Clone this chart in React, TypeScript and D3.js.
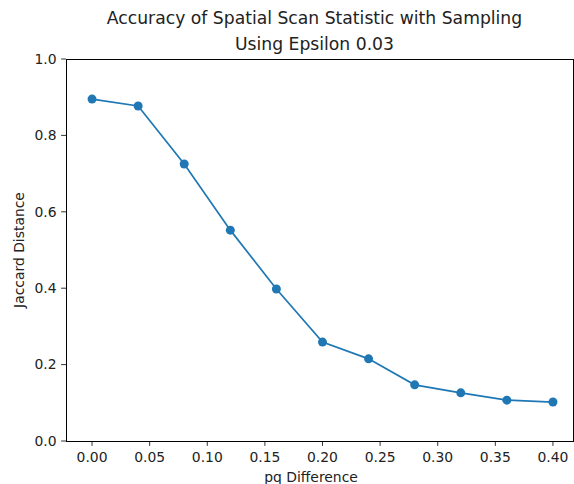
import React from "react";
import * as d3 from "d3";

const xValues = [0.0, 0.04, 0.08, 0.12, 0.16, 0.2, 0.24, 0.28, 0.32, 0.36, 0.4];
const yValues = [0.895, 0.877, 0.725, 0.552, 0.398, 0.259, 0.215, 0.147, 0.126, 0.107, 0.102];
const xTicks = [0.0, 0.05, 0.1, 0.15, 0.2, 0.25, 0.3, 0.35, 0.4];
const yTicks = [0.0, 0.2, 0.4, 0.6, 0.8, 1.0];
const titleLines = ["Accuracy of Spatial Scan Statistic with Sampling", "Using Epsilon 0.03"];
const xLabel = "pq Difference";
const yLabel = "Jaccard Distance";

export default function App() {
  const W = 574, H = 484;
  const left = 66, right = 573, top = 59, bottom = 441;
  const x = d3.scaleLinear().domain([-0.0226, 0.4174]).range([left, right]);
  const y = d3.scaleLinear().domain([0, 1]).range([bottom, top]);
  const line = d3.line<number>().x((_, i) => x(xValues[i])).y((d) => y(d));
  const color = "#1f77b4";
  const font = "DejaVu Sans, sans-serif";
  return (
    <svg width={W} height={H} style={{ position: "absolute", left: 0, top: 0, background: "#fff" }} fontFamily={font}>
      <rect x={0} y={0} width={W} height={H} fill="#fff" />
      <path d={line(yValues) || ""} fill="none" stroke={color} strokeWidth={1.7} />
      {yValues.map((d, i) => (
        <circle key={i} cx={x(xValues[i])} cy={y(d)} r={4.5} fill={color} />
      ))}
      <rect x={left} y={top} width={right - left} height={bottom - top} fill="none" stroke="#000" strokeWidth={1} shapeRendering="crispEdges" />
      {xTicks.map((t) => (
        <g key={t}>
          <line x1={x(t)} x2={x(t)} y1={bottom} y2={bottom + 4.9} stroke="#000" strokeWidth={0.8} />
          <text x={x(t)} y={bottom + 21} textAnchor="middle" fontSize={13.9} fill="#222">
            {t.toFixed(2)}
          </text>
        </g>
      ))}
      {yTicks.map((t) => (
        <g key={t}>
          <line x1={left - 4.9} x2={left} y1={y(t)} y2={y(t)} stroke="#000" strokeWidth={0.8} />
          <text x={left - 9.5} y={y(t)} dy="0.35em" textAnchor="end" fontSize={13.9} fill="#222">
            {t.toFixed(1)}
          </text>
        </g>
      ))}
      <text x={311} y={482} textAnchor="middle" fontSize={13.9} fill="#222">{xLabel}</text>
      <text transform={`translate(24, ${(top + bottom) / 2}) rotate(-90)`} textAnchor="middle" fontSize={13.9} fill="#222">{yLabel}</text>
      {titleLines.map((t, i) => (
        <text key={i} x={314.5} y={24 + i * 26} textAnchor="middle" fontSize={17.2} fill="#222">{t}</text>
      ))}
    </svg>
  );
}
